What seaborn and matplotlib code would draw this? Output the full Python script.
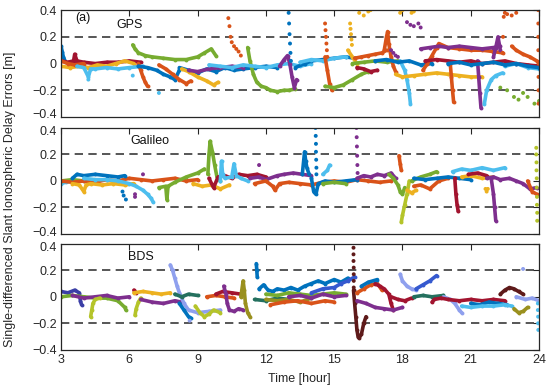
import numpy as np
import pandas as pd
import matplotlib
matplotlib.use('Agg')
import matplotlib.pyplot as plt
import matplotlib.transforms as mtransforms
import seaborn as sns

sns.set_theme(style='white')
plt.rcParams['font.family'] = ['Liberation Sans', 'DejaVu Sans']

# ---------------- data ----------------
x_ticks = [3, 6, 9, 12, 15, 18, 21, 24]
y_ticks = [-0.4, -0.2, 0, 0.2, 0.4]
y_tick_labels = ['\u22120.4', '\u22120.2', '0', '0.2', '0.4']
thresholds = [-0.2, 0.2]
panel_names = ['GPS', 'Galileo', 'BDS']

# ----- GPS arcs (time [h], error [m], colour key)
gps_t = [
    [3.0, 3.05, 3.1, 3.2],
    [3.0, 3.3, 3.55, 3.6, 3.7, 4.0, 4.5, 5.0, 5.5, 6.0, 6.5],
    [3.0, 3.4, 3.8, 4.2, 4.6, 5.0, 5.4, 5.8, 6.2],
    [3.0, 3.3, 3.6, 4.0],
    [3.7, 4.0, 4.2, 4.3, 4.5, 5.0, 5.5, 6.0, 6.6],
    [6.15, 6.25, 6.4, 6.7, 7.0, 7.5, 8.0, 8.5, 9.0, 9.3, 9.6, 9.8],
    [6.4, 6.5, 6.6, 6.7, 6.8],
    [6.4, 6.8, 7.2, 7.5, 7.8, 8.0, 8.2],
    [8.2, 8.6, 9.0, 9.4, 9.8, 10.2, 10.6, 11.0, 11.5, 12.0, 12.5],
    [7.3, 7.6, 7.9, 8.2, 8.5, 8.7],
    [8.3, 8.6, 9.0, 9.4, 9.7, 9.9],
    [8.6, 9.0, 9.5, 10.0, 10.5, 11.0],
    [11.2, 11.3, 11.45, 11.6, 11.8, 12.0, 12.2, 12.5, 12.8, 13.0, 13.3],
    [9.5, 10.0, 10.5, 11.0, 11.5, 12.0, 12.5, 13.0, 13.5, 14.0],
    [12.6, 12.8, 12.95, 13.05, 13.15, 13.25, 13.35],
    [13.3, 13.7, 14.0, 14.5, 15.0, 15.5, 15.9],
    [13.5, 14.0, 14.5, 15.0, 15.5],
    [14.6, 14.7, 14.8, 14.9],
    [14.6, 15.0, 15.4, 15.8, 16.2, 16.5],
    [15.6, 15.8, 16.0],
    [15.9, 16.2, 16.5, 16.8, 17.1, 17.3],
    [16.0, 16.3, 16.6, 16.9],
    [15.8, 16.3, 16.8, 17.3, 17.8],
    [17.2, 17.3, 17.35, 17.4, 17.5, 17.6, 17.7],
    [17.9, 18.1, 18.2, 18.3, 18.35],
    [17.7, 18.0, 18.5, 19.0, 19.5, 20.0, 20.5, 21.0, 21.5],
    [16.8, 17.3, 17.8, 18.3, 18.8, 19.3],
    [18.9, 19.1, 19.3, 19.5, 19.6, 20.0, 20.5, 21.0, 21.5, 22.0, 22.4],
    [18.8, 19.2, 19.6, 20.0, 20.5, 21.0, 21.5, 22.0, 22.3],
    [21.3, 21.35, 21.4, 21.45],
    [22.0, 22.1, 22.2, 22.3],
    [20.1, 20.15, 20.2, 20.25],
    [19.0, 19.5, 20.0, 20.5, 21.0, 21.5, 22.0, 22.5, 23.0, 23.5, 24.0],
    [22.8, 23.0, 23.3, 23.6, 23.9],
    [21.6, 21.7, 21.9, 22.1, 22.4],
    [22.5, 23.0, 23.5, 24.0],
    [20.0, 20.5, 21.0, 21.5, 22.0, 22.5, 23.0, 23.5, 24.0],
]
gps_v = [
    [0.13, 0.09, 0.05, 0.01],
    [0.02, 0.01, 0.02, 0.07, 0.02, 0.01, 0.0, 0.01, 0.01, 0.02, 0.01],
    [-0.02, -0.03, -0.02, -0.03, -0.01, -0.02, 0.0, 0.02, 0.0],
    [0.02, 0.0, -0.01, 0.0],
    [-0.02, -0.03, -0.1, -0.04, -0.04, -0.03, -0.04, -0.03, -0.02],
    [0.14, 0.11, 0.08, 0.06, 0.05, 0.04, 0.03, 0.03, 0.05, 0.08, 0.11, 0.06],
    [0.0, -0.05, -0.1, -0.14, -0.17],
    [-0.02, -0.03, -0.05, -0.08, -0.1, -0.12, -0.05],
    [-0.03, -0.05, -0.07, -0.04, -0.06, -0.03, -0.05, -0.04, -0.03, -0.02, -0.03],
    [-0.01, -0.04, -0.08, -0.12, -0.15, -0.13],
    [-0.04, -0.06, -0.1, -0.13, -0.16, -0.14],
    [-0.05, -0.06, -0.04, -0.03, -0.02, -0.03],
    [0.12, 0.02, -0.08, -0.14, -0.17, -0.18, -0.2, -0.21, -0.2, -0.2, -0.19],
    [-0.01, -0.02, -0.03, -0.01, -0.02, -0.03, -0.01, 0.0, -0.02, 0.0],
    [-0.02, 0.03, 0.06, 0.0, -0.1, -0.18, -0.12],
    [-0.03, 0.0, 0.02, 0.03, 0.04, 0.05, 0.04],
    [0.01, 0.03, 0.02, 0.04, 0.05],
    [0.05, -0.05, -0.15, -0.2],
    [-0.17, -0.18, -0.16, -0.12, -0.08, -0.06],
    [0.1, 0.05, 0.0],
    [0.04, 0.05, 0.06, 0.07, 0.08, 0.1],
    [-0.03, -0.04, -0.06, -0.05],
    [0.0, 0.01, 0.02, 0.01, 0.02],
    [0.1, 0.2, 0.24, 0.15, 0.05, -0.02, -0.06],
    [0.02, -0.05, -0.12, -0.22, -0.3],
    [-0.08, -0.1, -0.09, -0.08, -0.07, -0.08, -0.09, -0.1, -0.1],
    [0.02, 0.03, 0.01, 0.02, -0.01, 0.0],
    [-0.05, 0.0, 0.06, 0.12, 0.15, 0.12, 0.11, 0.1, 0.1, 0.09, 0.08],
    [0.11, 0.12, 0.13, 0.12, 0.13, 0.12, 0.11, 0.12, 0.13],
    [0.02, -0.1, -0.22, -0.33],
    [0.05, 0.12, 0.2, 0.1],
    [0.0, -0.1, -0.2, -0.29],
    [0.02, 0.03, 0.02, 0.01, 0.02, 0.0, 0.01, 0.02, 0.0, -0.01, -0.02],
    [0.13, 0.1, 0.07, 0.05, 0.02],
    [-0.3, -0.2, -0.12, -0.09, -0.07],
    [-0.02, 0.0, -0.03, -0.04],
    [0.0, 0.01, -0.01, 0.0, 0.01, -0.01, 0.0, -0.02, -0.03],
]
gps_c = ['B', 'R', 'Y', 'O', 'C', 'G', 'O', 'B', 'B', 'O', 'Y', 'P', 'G', 'C',
         'P', 'B', 'C', 'O', 'G', 'Y', 'O', 'R', 'G', 'O', 'C', 'Y', 'B', 'O',
         'P', 'P', 'P', 'O', 'R', 'O', 'C', 'C', 'B']

# sparse dotted GPS points
gps_dot_t = [
    [10.35, 10.4, 10.45, 10.5, 10.6, 10.7, 10.8, 10.9],
    [13.0, 13.02, 13.04, 13.06, 13.08, 13.1],
    [14.6, 14.62, 14.64, 14.66, 14.68, 14.7],
    [15.7, 15.72, 15.74, 15.76, 15.78],
    [16.1, 16.3, 16.5, 16.6, 17.9, 18.0, 18.4, 18.5],
    [17.5, 17.6, 17.7, 17.8, 18.2, 18.35, 18.5, 18.7, 18.8],
    [22.4, 22.42, 22.45, 22.5, 22.6, 22.8, 23.0],
    [22.3, 22.6, 22.9, 23.1, 23.3, 23.5, 23.8, 24.0],
    [23.97, 23.97, 23.97, 23.97, 23.98, 23.98, 23.98, 23.98],
    [4.2, 7.3, 6.15],
]
gps_dot_v = [
    [0.34, 0.28, 0.2, 0.16, 0.13, 0.11, 0.09, 0.06],
    [0.38, 0.3, 0.22, 0.15, 0.08, 0.02],
    [0.3, 0.25, 0.2, 0.15, 0.1, 0.05],
    [0.3, 0.26, 0.22, 0.18, 0.14],
    [0.38, 0.36, 0.39, 0.4, 0.38, 0.4, 0.38, 0.39],
    [0.1, 0.08, 0.06, 0.05, 0.31, 0.29, 0.28, 0.3, 0.27],
    [0.08, 0.2, 0.35, 0.38, 0.37, 0.36, 0.38],
    [-0.18, -0.2, -0.25, -0.27, -0.22, -0.25, -0.3, -0.28],
    [0.4, 0.3, 0.2, 0.1, 0.0, -0.1, -0.2, -0.3],
    [-0.12, -0.22, -0.09],
]
gps_dot_c = ['O', 'B', 'O', 'Y', 'Y', 'P', 'O', 'G', 'O', 'C']

# ----- Galileo arcs
gal_t = [
    [3.0, 3.2, 3.5],
    [3.0, 3.5, 4.0, 4.5],
    [3.0, 3.5, 4.0, 4.5, 5.0, 5.5, 6.0, 6.5, 7.0, 7.5, 8.0, 8.5, 9.0],
    [3.5, 3.7, 4.0, 4.5, 5.0, 5.5, 5.8],
    [3.5, 3.8, 4.0, 4.1, 4.3, 4.8, 5.3, 5.8, 6.2],
    [4.0, 4.5, 5.0, 5.5, 6.0, 6.3, 6.6, 6.8, 6.95, 7.05],
    [7.3, 7.6, 7.65, 7.7, 8.0, 8.5, 9.0, 9.3],
    [9.45, 9.5, 9.55, 9.65, 9.75, 9.85, 10.0],
    [8.8, 9.2, 9.6, 10.0, 10.4],
    [9.5, 9.7, 9.9, 10.2, 10.5, 10.8, 11.2, 11.6, 12.0],
    [10.0, 10.05, 10.1, 10.2, 10.5, 10.6, 10.7, 10.9, 11.2],
    [11.3, 11.7, 12.0, 12.5, 12.8, 13.2, 13.6, 14.0],
    [11.5, 12.0, 12.3, 12.4, 12.6, 13.0, 13.5, 14.0, 14.5, 15.0, 15.5, 16.0, 16.5, 17.0, 17.5],
    [13.6, 13.7, 13.75, 13.8, 13.9],
    [14.0, 14.1, 14.2, 14.3, 14.6, 15.0, 15.5, 16.0],
    [14.5, 14.7, 14.8],
    [14.5, 15.0, 15.5],
    [16.0, 16.3, 16.6, 16.9, 17.2, 17.5, 17.7],
    [17.85, 17.9, 17.95],
    [17.4, 17.6, 17.8, 17.9, 18.0, 18.1],
    [17.95, 18.0, 18.1, 18.2, 18.3],
    [18.2, 18.4, 18.6],
    [18.5, 18.8, 19.2, 19.6, 20.0],
    [18.4, 18.8, 19.2, 19.5],
    [18.5, 19.0, 19.5, 20.0, 20.5, 21.0],
    [20.3, 20.35, 20.4, 20.45],
    [20.2, 20.6, 21.0, 21.5, 22.0, 22.5],
    [20.6, 21.0, 21.5, 22.0],
    [20.9, 21.3, 21.7],
    [21.7, 22.0, 22.3, 22.7, 23.0, 23.3, 23.6, 23.9],
    [21.9, 22.0, 22.05, 22.1],
    [23.5, 23.7, 23.9],
]
gal_v = [
    [-0.02, -0.01, 0.0],
    [0.0, 0.01, 0.0, 0.01],
    [0.0, -0.01, 0.0, -0.01, 0.01, 0.0, 0.02, 0.01, 0.0, 0.01, 0.02, 0.0, 0.01],
    [0.02, 0.05, 0.04, 0.05, 0.04, 0.03, 0.04],
    [-0.02, -0.03, -0.08, -0.03, -0.02, -0.03, -0.02, -0.03, -0.02],
    [0.02, 0.01, 0.01, 0.0, -0.02, -0.04, -0.07, -0.1, -0.13, -0.16],
    [-0.05, -0.04, -0.14, -0.04, -0.01, 0.03, 0.06, 0.09],
    [0.05, 0.2, 0.3, 0.22, 0.12, 0.03, 0.0],
    [-0.02, -0.04, -0.03, -0.06, -0.03],
    [0.02, -0.05, 0.03, 0.04, 0.02, 0.05, 0.04, 0.05, 0.03],
    [0.0, 0.15, 0.05, 0.02, 0.03, 0.13, 0.04, 0.02, 0.0],
    [0.02, 0.03, 0.01, 0.04, 0.05, 0.06, 0.05, 0.04],
    [-0.02, 0.0, -0.04, -0.07, -0.02, -0.01, -0.02, -0.03, -0.01, 0.0, -0.01, 0.01, 0.0, -0.01, 0.0],
    [0.05, 0.22, 0.15, 0.1, 0.05],
    [0.02, -0.08, -0.1, -0.02, 0.0, -0.01, 0.0, 0.01],
    [0.05, 0.08, 0.12],
    [-0.02, -0.01, -0.02],
    [0.02, 0.04, 0.03, 0.05, 0.04, 0.06, 0.02],
    [0.19, 0.13, 0.08],
    [0.05, 0.02, -0.03, -0.08, -0.1, -0.05],
    [-0.31, -0.26, -0.18, -0.1, 0.0],
    [-0.07, -0.09, -0.07],
    [-0.04, -0.03, -0.06, 0.0, 0.02],
    [0.0, 0.03, 0.05, 0.07],
    [0.02, 0.01, 0.02, 0.03, 0.02, 0.01],
    [0.02, -0.1, -0.18, -0.23],
    [0.07, 0.09, 0.08, 0.1, 0.08, 0.1],
    [0.03, 0.04, 0.02, 0.03],
    [0.05, 0.06, 0.04],
    [0.02, 0.03, 0.01, 0.02, 0.0, -0.02, -0.06, -0.05],
    [0.02, -0.1, -0.2, -0.3],
    [0.0, -0.08, -0.1],
]
gal_c = ['C', 'G', 'O', 'B', 'Y', 'C', 'G', 'G', 'Y', 'R', 'C', 'P', 'O', 'B',
         'B', 'C', 'G', 'P', 'O', 'G', 'L', 'Y', 'O', 'G', 'B', 'R', 'C', 'Y',
         'R', 'P', 'P', 'O']

gal_dot_t = [
    [5.7, 5.75, 5.85],
    [6.25, 6.25, 6.6, 11.7],
    [14.18, 14.19, 14.2, 14.2, 14.21, 14.22, 14.22],
    [15.98, 15.99, 16.0, 16.01, 16.02, 16.03],
    [21.65, 21.7, 21.75],
    [23.88, 23.88, 23.89, 23.89, 23.9, 23.9, 23.91, 23.91, 23.92, 23.92],
]
gal_dot_v = [
    [-0.08, -0.11, -0.14],
    [-0.1, -0.12, 0.05, 0.12],
    [0.4, 0.34, 0.28, 0.22, 0.16, 0.1, 0.05],
    [0.4, 0.33, 0.26, 0.19, 0.12, 0.06],
    [-0.06, -0.08, -0.06],
    [0.25, 0.2, 0.14, 0.08, 0.02, -0.05, -0.12, -0.18, -0.24, -0.3],
]
gal_dot_c = ['B', 'P', 'B', 'P', 'Y', 'L']

# ----- BDS arcs
bds_t = [
    [3.0, 3.3, 3.6, 3.8, 3.85, 3.9],
    [3.0, 3.5, 4.0, 4.5, 5.0, 5.5, 5.8, 5.85],
    [3.5, 4.0, 4.5, 5.0, 5.5, 6.0],
    [4.3, 4.35, 4.4, 4.5, 4.7],
    [6.25, 6.3, 6.4, 6.5],
    [6.2, 6.3],
    [6.2, 6.6, 7.0, 7.4, 7.8],
    [6.5, 7.0, 7.5, 8.0, 8.3],
    [7.8, 7.9, 8.0, 8.1, 8.2, 8.4, 8.6, 9.0, 9.5, 10.0],
    [8.2, 8.4, 8.6, 8.7],
    [8.0, 8.3, 8.6, 9.0],
    [8.9, 9.1, 9.3, 9.5, 9.7, 10.0],
    [9.4, 9.8, 10.2, 10.6],
    [9.8, 10.1, 10.5, 10.9],
    [10.15, 10.25, 10.3, 10.4, 10.6, 10.8, 11.0],
    [10.9, 11.0, 11.05, 11.1, 11.2, 11.3],
    [11.58, 11.6, 11.62],
    [11.7, 11.9, 12.1, 12.3, 12.5, 12.8, 13.1, 13.4, 13.7, 14.0, 14.3, 14.6, 15.0, 15.3, 15.6],
    [11.5, 12.0, 12.5, 13.0],
    [12.0, 12.5, 13.0, 13.5, 14.0],
    [12.2, 12.8, 13.4, 14.0, 14.6, 15.0],
    [12.0, 12.5, 13.0, 13.5, 14.0, 14.5, 15.0, 15.5],
    [13.0, 13.5, 14.0, 14.5, 15.0, 15.5],
    [14.0, 14.5, 15.0, 15.3, 15.6, 15.9],
    [15.85, 15.9, 15.95, 16.0, 16.05, 16.1, 16.2, 16.3, 16.4],
    [16.0, 16.3, 16.6, 16.9, 17.1],
    [16.8, 17.0, 17.2, 17.4, 17.5, 17.6],
    [16.0, 16.4, 16.8, 17.2, 17.6, 18.0],
    [16.2, 16.5, 16.9],
    [17.9, 18.0, 18.2, 18.4, 18.6],
    [18.6, 18.9, 19.2, 19.5],
    [17.5, 17.8, 18.1, 18.4],
    [18.5, 18.9, 19.3, 19.8],
    [19.8, 20.1, 20.3, 20.5, 20.6],
    [19.3, 19.4, 19.7, 20.0, 20.5, 21.0, 21.5, 22.0, 22.5],
    [21.0, 21.4, 21.8, 22.2, 22.6],
    [20.6, 21.0, 21.5, 22.0, 22.5, 22.8],
    [22.3, 22.5, 22.7, 22.9, 23.1, 23.3],
    [22.9, 23.1, 23.3, 23.5],
    [23.0, 23.4, 23.7, 24.0],
]
bds_v = [
    [0.04, 0.03, 0.05, 0.03, -0.03, -0.06],
    [0.0, 0.01, 0.0, -0.01, -0.01, -0.03, -0.08, -0.1],
    [0.01, -0.01, 0.0, 0.01, -0.01, 0.0],
    [-0.15, -0.1, -0.05, -0.02, -0.01],
    [-0.14, -0.09, -0.04, -0.01],
    [0.05, 0.03],
    [0.03, 0.04, 0.03, 0.02, 0.03],
    [-0.02, -0.04, -0.05, -0.03, -0.04],
    [0.24, 0.2, 0.14, 0.08, 0.03, -0.05, -0.1, -0.12, -0.11, -0.1],
    [-0.05, -0.1, -0.15, -0.16],
    [0.02, 0.0, 0.02, 0.01],
    [-0.07, -0.12, -0.15, -0.13, -0.1, -0.12],
    [0.0, 0.01, 0.0, -0.01],
    [0.02, 0.04, 0.03, 0.02],
    [0.08, 0.02, -0.05, -0.1, -0.11, -0.09, -0.1],
    [0.0, 0.12, 0.05, -0.05, -0.12, -0.15],
    [0.25, 0.2, 0.15],
    [0.06, 0.09, 0.05, 0.04, 0.06, 0.05, 0.07, 0.05, 0.08, 0.1, 0.12, 0.1, 0.13, 0.11, 0.14],
    [-0.02, -0.03, -0.01, -0.02],
    [-0.02, -0.03, -0.02, -0.04, -0.01],
    [-0.06, -0.04, -0.03, -0.05, -0.03, -0.04],
    [0.02, 0.01, 0.03, 0.02, 0.01, 0.02, 0.03, 0.02],
    [0.0, 0.01, -0.01, 0.02, 0.0, 0.01],
    [0.03, 0.06, 0.07, 0.1, 0.12, 0.15],
    [0.05, -0.05, -0.15, -0.25, -0.3, -0.31, -0.28, -0.2, -0.15],
    [0.03, 0.06, 0.09, 0.1, 0.05],
    [0.1, 0.08, 0.06, 0.02, -0.05, -0.1],
    [-0.03, -0.05, -0.08, -0.09, -0.1, -0.08],
    [0.08, 0.11, 0.13],
    [0.17, 0.12, 0.08, 0.06, 0.05],
    [0.06, 0.09, 0.12, 0.16],
    [0.0, -0.02, -0.03, -0.01],
    [0.0, 0.01, 0.0, 0.01],
    [0.0, -0.02, -0.05, -0.1, -0.12],
    [-0.04, -0.02, -0.01, -0.02, -0.03, -0.02, -0.03, -0.02, -0.03],
    [-0.05, -0.06, -0.04, -0.05, -0.06],
    [-0.07, -0.08, -0.07, -0.07, -0.06, -0.07],
    [0.02, 0.05, 0.07, 0.06, 0.04, 0.02],
    [-0.09, -0.12, -0.11, -0.08],
    [0.0, -0.02, -0.01, -0.03],
]
bds_c = ['N', 'G', 'P', 'L', 'L', 'R', 'Y', 'P', 'W', 'B', 'T', 'L', 'O', 'R',
         'P', 'V', 'B', 'B', 'T', 'V', 'O', 'G', 'P', 'K', 'BR', 'O', 'R', 'P',
         'B', 'W', 'K', 'R', 'T', 'W', 'R', 'B', 'C', 'BR', 'V', 'W']

bds_dot_t = [
    [15.85, 15.85, 15.85, 15.86, 15.86, 15.86, 15.86],
    [8.65, 23.3],
    [23.95, 23.95, 23.96, 23.96, 23.97],
]
bds_dot_v = [
    [0.37, 0.32, 0.27, 0.22, 0.17, 0.12, 0.07],
    [-0.18, 0.21],
    [-0.05, -0.1, -0.15, -0.2, -0.25],
]
bds_dot_c = ['BR', 'W', 'C']

# ---------------- styles ----------------
colors = {
    'B': '#0072BD', 'O': '#D95319', 'Y': '#EDB120', 'P': '#7E2F8E',
    'G': '#77AC30', 'C': '#4DBEEE', 'R': '#A2142F', 'L': '#B5C42A',
    'N': '#3B3FA6', 'W': '#8FA0EE', 'T': '#24705E', 'V': '#9A901E',
    'K': '#3559CF', 'BR': '#5E1A1A',
}


def build(ts, vs, cs, prefix):
    rows = []
    for i, (t, v, c) in enumerate(zip(ts, vs, cs)):
        for a, b in zip(t, v):
            rows.append((a, b, f'{prefix}{i}', c))
    return pd.DataFrame(rows, columns=['t', 'v', 'arc', 'col'])


panels = [
    (gps_t, gps_v, gps_c, gps_dot_t, gps_dot_v, gps_dot_c),
    (gal_t, gal_v, gal_c, gal_dot_t, gal_dot_v, gal_dot_c),
    (bds_t, bds_v, bds_c, bds_dot_t, bds_dot_v, bds_dot_c),
]

fig = plt.figure(figsize=(5.5, 3.9), dpi=100)
fig.patch.set_facecolor('white')
axes_pos = [
    [0.111, 0.700, 0.869, 0.274],
    [0.111, 0.400, 0.869, 0.272],
    [0.111, 0.103, 0.869, 0.272],
]
name_pos = [(0.144, 0.86), (0.186, 0.875), (0.167, 0.875)]

for k, (pos, data) in enumerate(zip(axes_pos, panels)):
    ax = fig.add_axes(pos)
    ts, vs, cs, dts, dvs, dcs = data
    df = build(ts, vs, cs, 'a')
    pal = {f'a{i}': colors[c] for i, c in enumerate(cs)}
    for th in thresholds:
        ax.axhline(th, color='#3a3a3a', lw=1.2, ls=(0, (5, 3.2)), zorder=1)
    sns.lineplot(data=df, x='t', y='v', hue='arc', palette=pal, estimator=None,
                 sort=False, lw=2.6, marker='o', markersize=2.8, mew=0,
                 legend=False, ax=ax, zorder=3)
    ddf = build(dts, dvs, dcs, 'd')
    dpal = {f'd{i}': colors[c] for i, c in enumerate(dcs)}
    sns.scatterplot(data=ddf, x='t', y='v', hue='arc', palette=dpal, s=8,
                    linewidth=0, legend=False, ax=ax, zorder=4)
    ax.set_xlim(3, 24)
    ax.set_ylim(-0.4, 0.4)
    ax.set_xticks(x_ticks)
    ax.set_yticks(y_ticks)
    ax.set_yticklabels(y_tick_labels)
    if k == 2:
        ax.set_xticklabels([str(h) for h in x_ticks])
    else:
        ax.set_xticklabels([])
    ax.set_xlabel('')
    ax.set_ylabel('')
    ax.tick_params(direction='in', top=True, right=True, length=4, width=0.8,
                   labelsize=9, colors='#262626', pad=3)
    # nudge the crowded end labels between stacked panels apart
    labels = ax.get_yticklabels()
    if k < 2:
        labels[0].set_transform(labels[0].get_transform() +
                                mtransforms.ScaledTranslation(0, 3 / 100, fig.dpi_scale_trans))
    if k > 0:
        labels[-1].set_transform(labels[-1].get_transform() +
                                 mtransforms.ScaledTranslation(0, -3 / 100, fig.dpi_scale_trans))
    for sp in ax.spines.values():
        sp.set_color('#262626')
        sp.set_linewidth(0.9)
        sp.set_zorder(6)
    ax.text(name_pos[k][0], name_pos[k][1], panel_names[k], transform=ax.transAxes,
            ha='center', va='center', fontsize=9, color='#111111', zorder=7)
    if k == 0:
        ax.text(0.03, 0.93, '(a)', transform=ax.transAxes, ha='left', va='center',
                fontsize=9, color='#111111', zorder=7)

fig.text(0.018, 0.49, 'Single-differenced Slant Ionospheric Delay Errors [m]',
         rotation=90, ha='center', va='center', fontsize=9, color='#262626')
fig.text(0.545, 0.028, 'Time [hour]', ha='center', va='center', fontsize=9,
         color='#262626')

fig.savefig('out.png', dpi=100, facecolor='white')
